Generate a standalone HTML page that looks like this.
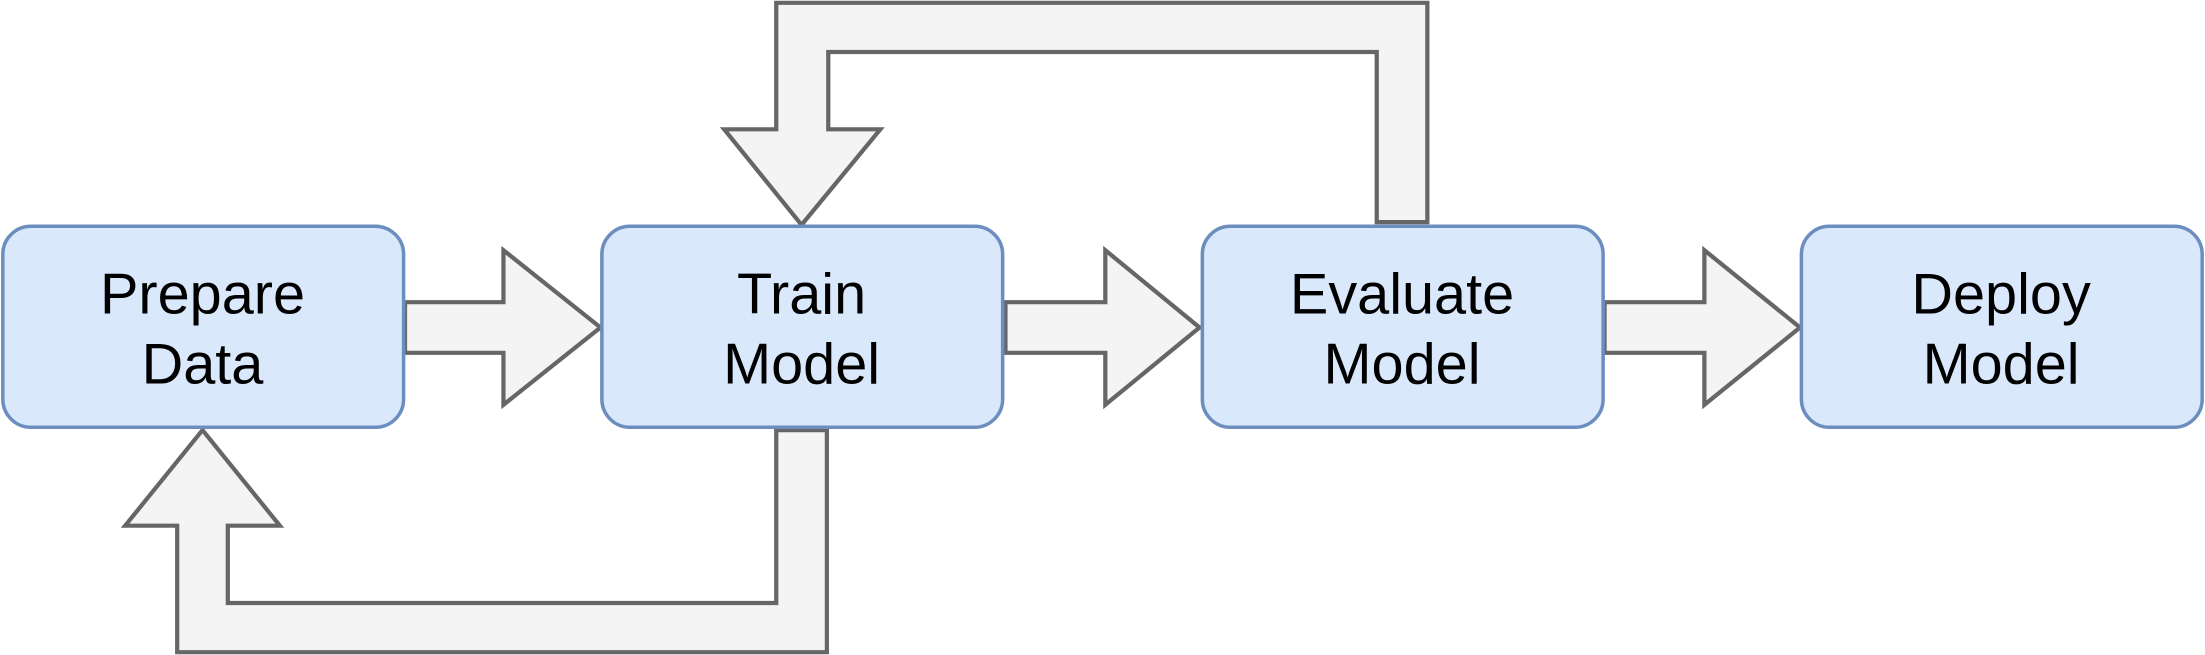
<!DOCTYPE html>
<html><head><meta charset="utf-8"><style>html,body{margin:0;padding:0;background:#fff}svg{display:block}</style></head>
<body>
<svg width="2205" height="655" viewBox="0 0 1568 466" preserveAspectRatio="none" xmlns="http://www.w3.org/2000/svg">
<g fill="#f4f4f4" stroke="#666" stroke-width="3" stroke-linejoin="miter">
<polygon points="288,215 358,215 358,178 427,233 358,288 358,251 288,251"/>
<polygon points="715,215 786,215 786,178 853,233 786,288 786,251 715,251"/>
<polygon points="1141,215 1212,215 1212,178 1280,233 1212,288 1212,251 1141,251"/>
<polygon points="979,158 979,37 589,37 589,92 626,92 570,160 515,92 552,92 552,2 1015,2 1015,158"/>
<polygon points="552,306 552,429 162,429 162,374 199,374 144,306 89,374 126,374 126,464 588,464 588,306"/>
</g>
<g fill="#dae8fc" stroke="#6c8ebf" stroke-width="2.5">
<rect x="2" y="161" width="285" height="143" rx="20"/>
<rect x="428" y="161" width="285" height="143" rx="20"/>
<rect x="855" y="161" width="285" height="143" rx="20"/>
<rect x="1281" y="161" width="285" height="143" rx="20"/>
</g>
<g font-family="Liberation Sans, Arial, sans-serif" font-size="41" fill="#000" text-anchor="middle">
<text x="144" y="223">Prepare</text><text x="144" y="273">Data</text>
<text x="570" y="223">Train</text><text x="570" y="273">Model</text>
<text x="997" y="223">Evaluate</text><text x="997" y="273">Model</text>
<text x="1423" y="223">Deploy</text><text x="1423" y="273">Model</text>
</g>
</svg>
</body></html>
